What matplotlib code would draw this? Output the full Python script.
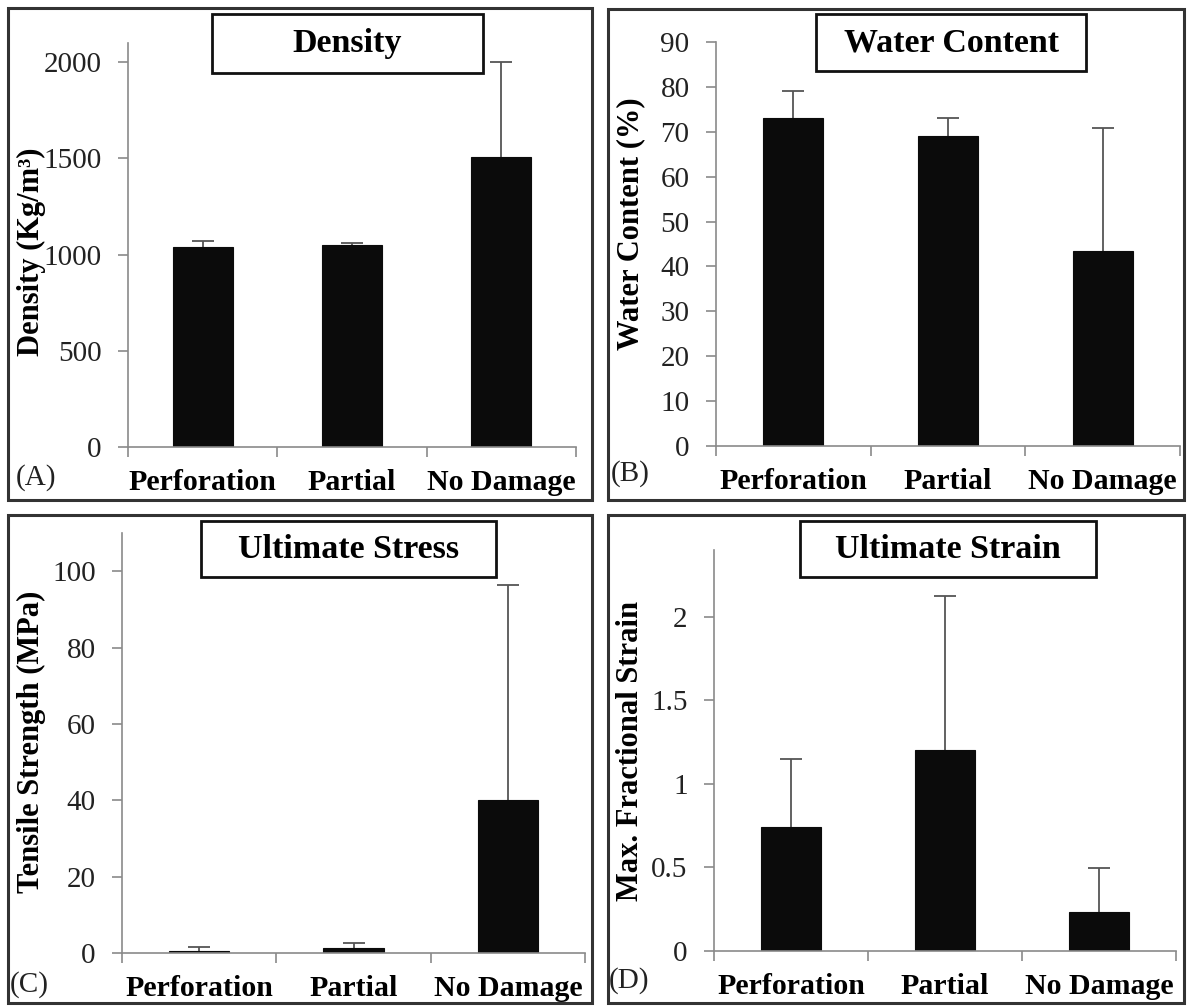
import matplotlib
matplotlib.use("Agg")
import matplotlib.pyplot as plt
from matplotlib.patches import Rectangle
import numpy as np

categories = ["Perforation", "Partial", "No Damage"]

density_mean = [1041, 1051, 1510]
density_err = [29, 10, 490]

water_mean = [73.0, 69.1, 43.4]
water_err = [6.0, 3.9, 27.5]

stress_mean = [0.45, 1.3, 40.2]
stress_err = [1.2, 1.4, 56.1]

strain_mean = [0.74, 1.205, 0.234]
strain_err = [0.41, 0.92, 0.265]

titles = ["Density", "Water Content", "Ultimate Stress", "Ultimate Strain"]
ylabels = ["Density (Kg/m\u00b3)", "Water Content (%)", "Tensile Strength (MPa)", "Max. Fractional Strain"]
panel_tags = ["(A)", "(B)", "(C)", "(D)"]
yticks_list = [[0, 500, 1000, 1500, 2000],
               list(range(0, 91, 10)),
               [0, 20, 40, 60, 80, 100],
               [0, 0.5, 1, 1.5, 2]]
ytick_labels = [["0", "500", "1000", "1500", "2000"],
                [str(v) for v in range(0, 91, 10)],
                ["0", "20", "40", "60", "80", "100"],
                ["0", "0.5", "1", "1.5", "2"]]
ylims = [2100, 90, 110, 2.4]

W, H = 1193, 1007
plt.rcParams['font.family'] = ['Liberation Serif', 'DejaVu Serif']
fig = plt.figure(figsize=(W / 100, H / 100), dpi=100)

def fx(x):
    return x / W

def fy(y):
    return 1 - y / H

# axes pixel boxes: left, right, top, bottom
axes_px = [(128, 576, 43, 447), (716, 1180, 42, 446), (122, 585, 533, 953), (714, 1176, 550, 951)]
borders_px = [(8, 592, 8, 500), (608, 1184, 9, 500), (8, 592, 515, 1003), (608, 1184, 515, 1003)]
title_px = [(212, 483, 14, 73), (816, 1086, 14, 71), (201, 496, 521, 577), (800, 1096, 521, 577)]
ylabel_px = [(31, 252), (631, 224), (31, 742), (631, 751)]
tag_px = [(16, 478), (611, 474), (10, 985), (609, 981)]
barwidths = [0.40, 0.39, 0.39, 0.39]

means = [density_mean, water_mean, stress_mean, strain_mean]
errs = [density_err, water_err, stress_err, strain_err]

for i in range(4):
    l, r, t, b = axes_px[i]
    ax = fig.add_axes([fx(l), fy(b), (r - l) / W, (b - t) / H])
    x = np.arange(len(categories))
    ax.bar(x, means[i], width=barwidths[i], color="#0b0b0b", edgecolor="#0b0b0b", linewidth=0.8, zorder=2)
    eb = ax.errorbar(x, means[i], yerr=[np.zeros(len(categories)), errs[i]], fmt="none",
                     ecolor="#555555", elinewidth=1.3, capsize=8, capthick=1.3, zorder=1)
    caplines = eb[1]
    if len(caplines) == 2:
        caplines[0].set_visible(False)
    ax.set_xlim(-0.5, len(categories) - 0.5)
    ax.set_ylim(0, ylims[i])
    for s in ["top", "right"]:
        ax.spines[s].set_visible(False)
    for s in ["left", "bottom"]:
        ax.spines[s].set_color("#8a8a8a")
        ax.spines[s].set_linewidth(1.2)
        ax.spines[s].set_zorder(3)
    ax.set_yticks(yticks_list[i])
    ax.set_yticklabels(ytick_labels[i])
    ax.set_xticks(x)
    ax.set_xticklabels(categories, fontweight="bold", fontsize=21.5)
    ax.set_xticks(np.arange(-0.5, len(categories)), minor=True)
    ax.tick_params(axis="x", which="major", length=0, pad=16)
    ax.tick_params(axis="x", which="minor", length=7, width=1.2, color="#8a8a8a", direction="out")
    ax.tick_params(axis="y", length=7, width=1.2, color="#8a8a8a", direction="out", labelsize=21, pad=12)
    for lab in ax.get_yticklabels():
        lab.set_color("#222222")

    # panel border
    bl, br, bt, bb = borders_px[i]
    fig.patches.append(Rectangle((fx(bl), fy(bb)), (br - bl) / W, (bb - bt) / H, transform=fig.transFigure,
                                 fill=False, edgecolor="#333333", linewidth=2.2, zorder=10))
    # title box
    tl, tr, tt, tb = title_px[i]
    fig.patches.append(Rectangle((fx(tl), fy(tb)), (tr - tl) / W, (tb - tt) / H, transform=fig.transFigure,
                                 facecolor="white", edgecolor="#111111", linewidth=2.0, zorder=10))
    fig.text(fx((tl + tr) / 2), fy((tt + tb) / 2), titles[i], ha="center", va="center",
             fontsize=24.5, fontweight="bold", zorder=11)
    # y label
    yx, yy = ylabel_px[i]
    fig.text(fx(yx), fy(yy), ylabels[i], rotation=90, ha="center", va="center",
             fontsize=22, fontweight="bold")
    # panel tag
    px_, py_ = tag_px[i]
    fig.text(fx(px_), fy(py_), panel_tags[i], ha="left", va="center", fontsize=21, color="#222222")

fig.savefig("out.png", dpi=100, facecolor="white")
